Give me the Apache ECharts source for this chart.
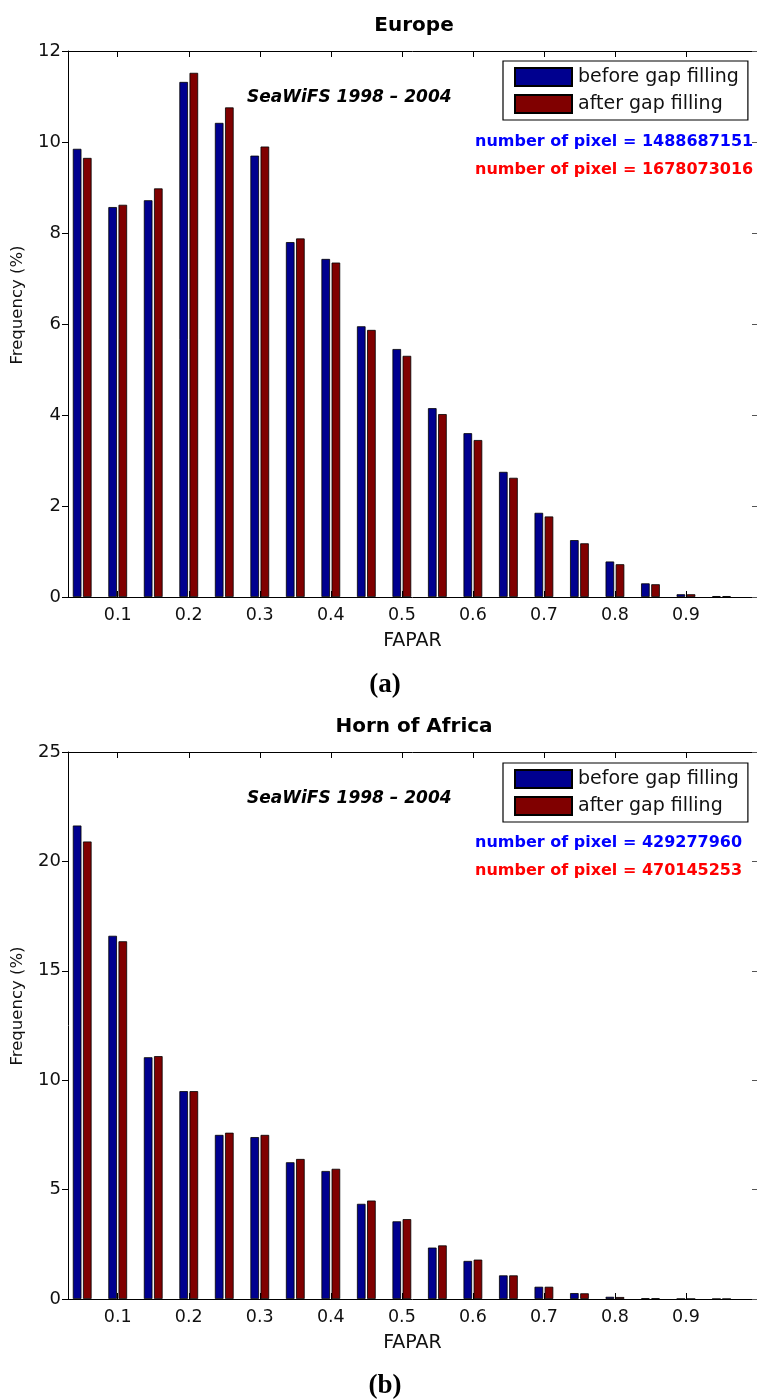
<!DOCTYPE html>
<html>
<head>
<meta charset="utf-8">
<script src="https://cdn.jsdelivr.net/npm/echarts@6/dist/echarts.min.js"></script>
<style>
html,body{margin:0;padding:0;background:#fff;}
#chart{width:757px;height:1399px;}
</style>
</head>
<body>
<div id="chart"></div>
<script>
// FAPAR bin centres
var fapar = [0.05,0.10,0.15,0.20,0.25,0.30,0.35,0.40,0.45,0.50,0.55,0.60,0.65,0.70,0.75,0.80,0.85,0.90,0.95];
var xTicks = [0.1,0.2,0.3,0.4,0.5,0.6,0.7,0.8,0.9,1.0];

// Europe (a)
var europeBefore = [9.85,8.57,8.72,11.32,10.42,9.70,7.80,7.43,5.95,5.45,4.15,3.60,2.75,1.85,1.25,0.78,0.30,0.06,0.02];
var europeAfter  = [9.65,8.62,8.98,11.52,10.76,9.90,7.88,7.35,5.87,5.30,4.02,3.45,2.62,1.77,1.18,0.72,0.28,0.06,0.02];

// Horn of Africa (b)
var hornBefore = [21.64,16.60,11.05,9.50,7.50,7.40,6.25,5.85,4.35,3.55,2.35,1.74,1.08,0.56,0.27,0.10,0.03,0.01,0.005];
var hornAfter  = [20.91,16.35,11.10,9.50,7.60,7.50,6.40,5.95,4.50,3.65,2.45,1.80,1.08,0.56,0.26,0.09,0.03,0.01,0.005];

var seriesNames = ['before gap filling','after gap filling'];
var titles = ['Europe','Horn of Africa'];
var panelLabels = ['(a)','(b)'];
var sensorText = 'SeaWiFS 1998 \u2013 2004';
var pixelCounts = [['1488687151','1678073016'],['429277960','470145253']];

var BLUE = '#00008f', RED = '#800000';
var FONT = 'DejaVu Sans';

function pairs(vals){ return fapar.map(function(x,i){ return [x, vals[i]]; }); }

var grids = [
  {left:68, width:690, top:51, height:546},
  {left:68, width:690, top:752, height:547}
];

var xAxes = [], yAxes = [], series = [], legends = [];
[0,1].forEach(function(g){
  // bottom axis
  xAxes.push({
    type:'value', gridIndex:g, min:0.03, max:1.0, position:'bottom',
    interval:0.1,
    axisLine:{show:true, onZero:false, lineStyle:{color:'#000', width:1}},
    axisLabel:{show:true, fontFamily:FONT, fontSize:17.5, color:'#111', margin:9,
      customValues: xTicks.slice(0,9),
      formatter:function(v){ return (Math.round(v*10)/10).toFixed(1); }},
    axisTick: {show:true, inside:true, length:6, customValues: xTicks, lineStyle:{color:'#000'}},
    splitLine:{show:false},
    name:'FAPAR', nameLocation:'middle', nameGap:35,
    nameTextStyle:{fontFamily:FONT, fontSize:19, color:'#111'}
  });
  // top frame axis
  xAxes.push({
    type:'value', gridIndex:g, min:0.03, max:1.0, position:'top',
    axisLine:{show:true, onZero:false, lineStyle:{color:'#000', width:1}},
    axisTick:{show:true, inside:true, length:6, customValues: xTicks, lineStyle:{color:'#000'}},
    axisLabel:{show:false}, splitLine:{show:false}
  });
  var ymax = g===0 ? 12 : 25, yint = g===0 ? 2 : 5;
  yAxes.push({
    type:'value', gridIndex:g, min:0, max:ymax, interval:yint, position:'left',
    axisLine:{show:true, onZero:false, lineStyle:{color:'#000', width:1}},
    axisTick:{show:true, inside:false, length:6, lineStyle:{color:'#000'}},
    axisLabel:{fontFamily:FONT, fontSize:18, color:'#111', margin:7},
    splitLine:{show:false}
  });
  yAxes.push({
    type:'value', gridIndex:g, min:0, max:ymax, interval:yint, position:'right',
    axisLine:{show:true, onZero:false, lineStyle:{color:'#000', width:1}},
    axisTick:{show:true, inside:true, length:5, lineStyle:{color:'#555'}},
    axisLabel:{show:false}, splitLine:{show:false}
  });
  var before = g===0 ? europeBefore : hornBefore;
  var after = g===0 ? europeAfter : hornAfter;
  series.push({
    type:'bar', name:seriesNames[0], xAxisIndex:g*2, yAxisIndex:g*2,
    data:pairs(before), barWidth:8.6, barGap:'18%',
    itemStyle:{color:BLUE, borderColor:'#000', borderWidth:0.8}
  });
  series.push({
    type:'bar', name:seriesNames[1], xAxisIndex:g*2, yAxisIndex:g*2,
    data:pairs(after), barWidth:8.6, barGap:'18%',
    itemStyle:{color:RED, borderColor:'#000', borderWidth:0.8}
  });
  legends.push({
    data:seriesNames, orient:'vertical', left:503, top:(g===0?61:763),
    itemWidth:57, itemHeight:18, itemGap:7, selectedMode:false,
    icon:'rect',
    padding:[6,9,6,11], borderColor:'#000', borderWidth:1.2, backgroundColor:'#fff',
    textStyle:{fontFamily:FONT, fontSize:19, color:'#111', padding:[0,0,0,1]}
  });
});

var yCenters = [305, 1006];
var graphics = [];
[0,1].forEach(function(g){
  var top = grids[g].top;
  graphics.push({type:'text', x:414, y: top-25, style:{text:titles[g], font:'bold 20px "'+FONT+'"', fill:'#000', align:'center', verticalAlign:'middle'}});
  graphics.push({type:'text', x:247, y: top+38, style:{text:sensorText, font:'italic bold 17px "'+FONT+'"', fill:'#000'}});
  graphics.push({type:'text', x:475, y: top+83, style:{text:'number of pixel = '+pixelCounts[g][0], font:'bold 16px "'+FONT+'"', fill:'#0000ff'}});
  graphics.push({type:'text', x:475, y: top+111, style:{text:'number of pixel = '+pixelCounts[g][1], font:'bold 16px "'+FONT+'"', fill:'#ff0000'}});
  graphics.push({type:'text', x:18, y: yCenters[g], rotation:Math.PI/2,
    style:{text:'Frequency (%)', font:'16.5px "'+FONT+'"', fill:'#111', align:'center', verticalAlign:'middle'}});
  graphics.push({type:'text', x:385, y: top+634, style:{text:panelLabels[g], font:'bold 27px "Liberation Serif"', fill:'#000', align:'center', verticalAlign:'middle'}});
});

var chart = echarts.init(document.getElementById('chart'), null, {renderer:'canvas'});
chart.setOption({
  animation:false,
  backgroundColor:'#fff',
  grid: grids,
  xAxis: xAxes,
  yAxis: yAxes,
  legend: legends,
  series: series,
  graphic: graphics
});
</script>
</body>
</html>
